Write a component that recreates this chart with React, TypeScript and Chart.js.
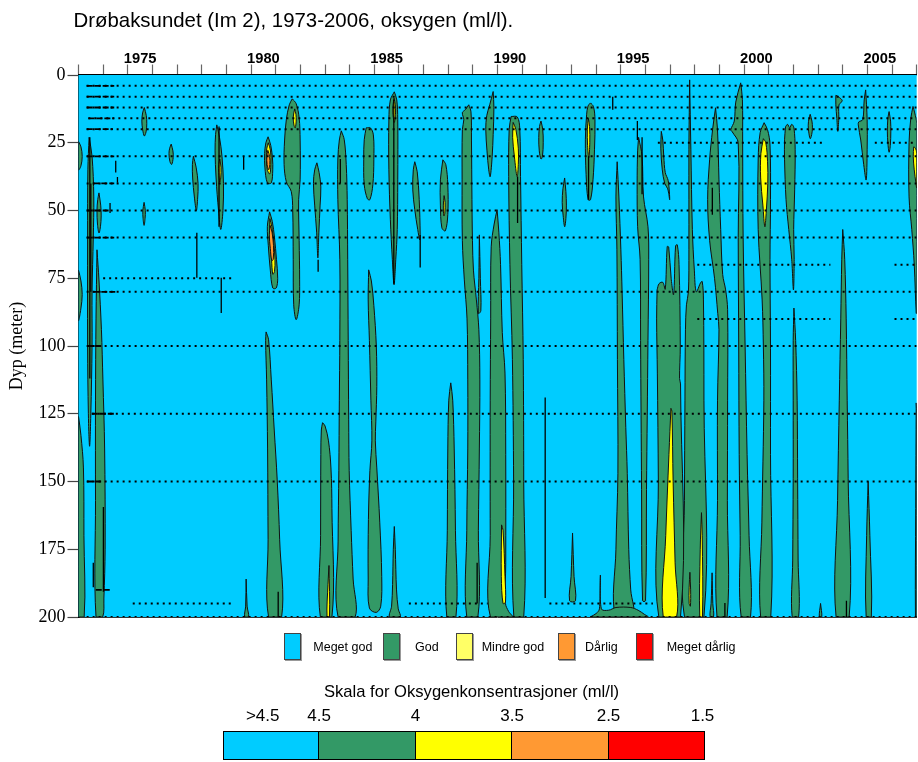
import React, { useEffect, useRef } from 'react';
import { Chart, registerables } from 'chart.js';

Chart.register(...registerables);

// ---------- axes ----------
const firstYear = 1973;
const lastYear = 2007;
const yearLabels = [1975, 1980, 1985, 1990, 1995, 2000, 2005];
const depthMax = 200;
const depthStep = 25;

// ---------- classes ----------
const classNames = ['Meget god', 'God', 'Mindre god', 'Dårlig', 'Meget dårlig'];
const classColors = ['#00CCFF', '#339966', '#FFFF66', '#FF9933', '#FF0000'];
const scaleColors = ['#00CCFF', '#339966', '#FFFF00', '#FF9933', '#FF0000'];
const scaleLabels = ['>4.5', '4.5', '4', '3.5', '2.5', '1.5'];

type P = [number, number]; // [year, depth]

// "God" (4.0 - 4.5 ml/l) areas, outlines as [year, depth]
const godAreas: P[][] = [
  [[1973, 24.5], [1973.1, 26.5], [1973.15, 30], [1973.1, 33.5], [1973, 35]],
  [[1973, 72], [1973.1, 76], [1973.15, 81], [1973.1, 86], [1973, 90.5]],
  [[1973, 126], [1973.1, 133], [1973.2, 145], [1973.22, 170], [1973.23, 200], [1973, 200]],
  [[1973.43, 23], [1973.55, 30], [1973.62, 45], [1973.6, 60], [1973.55, 80], [1973.55, 100], [1973.5, 125], [1973.45, 137], [1973.4, 125], [1973.37, 100], [1973.37, 60], [1973.38, 35]],
  [[1973.83, 43.5], [1973.9, 48], [1973.92, 52], [1973.89, 56], [1973.83, 58.3], [1973.77, 55], [1973.75, 50], [1973.78, 46]],
  [[1973.75, 64.5], [1973.83, 75.6], [1973.93, 94], [1973.99, 112.5], [1974.06, 138], [1974.08, 175], [1974.03, 193], [1973.98, 200], [1973.71, 200], [1973.69, 157], [1973.69, 120], [1973.71, 90]],
  [[1975.67, 12], [1975.75, 15], [1975.77, 18], [1975.74, 21], [1975.67, 22.5], [1975.6, 20], [1975.57, 17], [1975.6, 14]],
  [[1975.66, 47], [1975.71, 50], [1975.7, 53], [1975.66, 55.5], [1975.62, 53], [1975.61, 50]],
  [[1976.76, 25.5], [1976.83, 28], [1976.84, 30.5], [1976.78, 33], [1976.71, 32], [1976.67, 29], [1976.7, 27]],
  [[1977.66, 30], [1977.77, 34], [1977.85, 40], [1977.83, 46], [1977.78, 50], [1977.7, 45], [1977.63, 38], [1977.62, 33]],
  [[1978.61, 18.4], [1978.72, 23], [1978.82, 30], [1978.88, 40], [1978.86, 50], [1978.77, 57], [1978.68, 50], [1978.58, 38], [1978.54, 28], [1978.56, 22]],
  [[1979.8, 186], [1979.84, 196], [1979.9, 200], [1979.74, 200], [1979.78, 196]],
  [[1980.69, 22.8], [1980.8, 26], [1980.87, 31], [1980.88, 35], [1980.82, 39.8], [1980.66, 39.8], [1980.56, 34], [1980.55, 29], [1980.6, 25]],
  [[1980.75, 50.5], [1980.86, 54], [1980.95, 60], [1981.03, 68], [1981.08, 75], [1981.02, 78.6], [1980.88, 78.6], [1980.78, 72], [1980.7, 63], [1980.66, 56]],
  [[1980.61, 94.8], [1980.71, 97.7], [1980.82, 112.5], [1980.94, 131], [1981.06, 149.4], [1981.16, 171.5], [1981.24, 200], [1980.71, 200], [1980.69, 171.5], [1980.67, 138], [1980.63, 112.5], [1980.59, 98]],
  [[1981.67, 8.8], [1981.83, 10.6], [1981.95, 15.8], [1981.99, 24], [1981.99, 38.7], [1981.93, 46], [1981.95, 61], [1981.97, 75.6], [1981.95, 84.8], [1981.83, 90.3], [1981.73, 84.8], [1981.71, 68], [1981.69, 50], [1981.63, 43], [1981.43, 39.4], [1981.34, 33], [1981.36, 24], [1981.43, 16.5], [1981.55, 11]],
  [[1982.67, 32.4], [1982.76, 36], [1982.83, 41.3], [1982.8, 48], [1982.75, 58], [1982.71, 67.5], [1982.66, 58], [1982.58, 48], [1982.53, 40], [1982.58, 35]],
  [[1982.9, 128.3], [1983.0, 129.5], [1983.14, 135], [1983.24, 145], [1983.28, 160], [1983.28, 200], [1982.81, 200], [1982.82, 170], [1982.83, 140], [1982.85, 131]],
  [[1983.66, 20.6], [1983.78, 23.9], [1983.86, 33], [1983.9, 46], [1983.92, 68], [1983.94, 98], [1983.96, 127], [1983.98, 146], [1984.06, 168], [1984.14, 186], [1984.22, 200], [1983.53, 200], [1983.53, 172], [1983.56, 146], [1983.58, 120], [1983.6, 98], [1983.6, 68], [1983.52, 46], [1983.52, 31], [1983.58, 24]],
  [[1984.67, 19.5], [1984.84, 19.5], [1984.96, 22.1], [1984.98, 31.3], [1984.94, 40.5], [1984.82, 46], [1984.72, 45.7], [1984.59, 40.5], [1984.57, 31.3], [1984.59, 23.9]],
  [[1984.77, 71.9], [1984.88, 76], [1984.98, 85], [1985.08, 100], [1985.1, 115], [1985.06, 128], [1985.04, 135], [1985.1, 145], [1985.22, 165], [1985.3, 185], [1985.26, 196], [1985.08, 198.3], [1984.8, 196.7], [1984.75, 186], [1984.76, 164], [1984.82, 146], [1984.9, 135], [1984.86, 120], [1984.8, 98], [1984.75, 83]],
  [[1985.81, 6.2], [1985.91, 9.2], [1985.95, 16.5], [1985.95, 38.7], [1985.93, 57], [1985.87, 68], [1985.8, 77.4], [1985.73, 68], [1985.65, 53.4], [1985.59, 35], [1985.59, 16.5], [1985.65, 9.2]],
  [[1985.81, 166.6], [1985.85, 175], [1985.9, 190], [1985.97, 197], [1986.05, 200], [1985.62, 200], [1985.7, 196], [1985.74, 188], [1985.77, 175]],
  [[1986.64, 32], [1986.74, 35.7], [1986.82, 46], [1986.86, 59], [1986.84, 60.8], [1986.76, 57], [1986.64, 49.7], [1986.56, 42.4], [1986.58, 35]],
  [[1987.78, 31.3], [1987.9, 33.1], [1987.98, 40.5], [1987.98, 51.5], [1987.88, 57.5], [1987.74, 56.4], [1987.68, 48], [1987.68, 38.7]],
  [[1988.1, 113.6], [1988.18, 120], [1988.24, 138], [1988.29, 168], [1988.31, 200], [1987.94, 200], [1987.96, 168], [1987.98, 138], [1988.02, 120]],
  [[1988.83, 11], [1988.92, 13.6], [1988.94, 24], [1988.96, 46], [1988.98, 61], [1989.02, 72], [1989.14, 83], [1989.24, 94], [1989.28, 112.5], [1989.26, 138], [1989.22, 168], [1989.2, 200], [1988.75, 200], [1988.75, 168], [1988.79, 138], [1988.79, 112.5], [1988.76, 90], [1988.65, 75.6], [1988.57, 61], [1988.56, 38.7], [1988.57, 20.2], [1988.63, 16.5], [1988.57, 13.9], [1988.69, 12.8]],
  [[1989.26, 59], [1989.3, 75], [1989.32, 87], [1989.22, 88], [1989.24, 75]],
  [[1989.82, 6.1], [1989.85, 12], [1989.82, 22], [1989.78, 30], [1989.7, 37.5], [1989.64, 35], [1989.57, 28], [1989.52, 20], [1989.56, 15], [1989.68, 11]],
  [[1989.98, 49.7], [1990.05, 58], [1990.12, 70], [1990.19, 95], [1990.3, 110], [1990.33, 140], [1990.33, 180], [1990.32, 195], [1990.45, 198], [1990.6, 200], [1989.71, 200], [1989.7, 170], [1989.7, 120], [1989.72, 90], [1989.74, 63.4], [1989.86, 55]],
  [[1990.55, 15.3], [1990.8, 15.5], [1990.9, 20], [1990.93, 37.5], [1990.98, 70], [1991.04, 105], [1991.06, 150], [1991.06, 200], [1990.66, 200], [1990.65, 150], [1990.6, 105], [1990.5, 70], [1990.45, 37.5], [1990.47, 20]],
  [[1991.76, 17], [1991.83, 20], [1991.85, 25], [1991.82, 30], [1991.76, 31], [1991.69, 28], [1991.67, 23], [1991.7, 19]],
  [[1992.72, 38], [1992.77, 43], [1992.79, 48], [1992.77, 53], [1992.72, 56], [1992.66, 52], [1992.62, 47], [1992.65, 42]],
  [[1993.04, 169], [1993.1, 185], [1993.16, 194], [1992.92, 194], [1992.98, 185]],
  [[1993.77, 10.3], [1993.89, 11.7], [1993.95, 16.5], [1993.93, 27.6], [1993.87, 38.7], [1993.77, 46], [1993.67, 46], [1993.59, 36.8], [1993.56, 23.9], [1993.61, 14.7], [1993.67, 11.4]],
  [[1993.75, 200], [1994.0, 198.7], [1994.13, 197], [1994.17, 184.5], [1994.21, 197], [1994.5, 197.5], [1994.8, 196.5], [1995.4, 196.5], [1995.7, 197.5], [1995.95, 199], [1996.1, 200]],
  [[1994.85, 32], [1994.92, 45], [1995.0, 64.5], [1995.05, 80], [1995.12, 105], [1995.2, 130], [1995.26, 147], [1995.32, 175], [1995.4, 190], [1995.5, 200], [1994.78, 200], [1994.8, 175], [1994.88, 147], [1994.86, 105], [1994.84, 64.5], [1994.8, 45]],
  [[1995.72, 23], [1995.86, 30], [1995.92, 45], [1996.1, 56], [1996.13, 68], [1996.1, 98], [1996.04, 153], [1996.0, 194], [1995.88, 194], [1995.84, 153], [1995.8, 98], [1995.78, 68], [1995.68, 56], [1995.66, 40], [1995.68, 28]],
  [[1996.64, 20.8], [1996.7, 24], [1996.74, 30], [1996.8, 36], [1996.92, 39], [1996.98, 46], [1996.9, 42], [1996.78, 40], [1996.68, 35], [1996.62, 27]],
  [[1996.47, 79.3], [1996.55, 77], [1996.7, 76.5], [1996.8, 79], [1996.88, 63.3], [1996.94, 63.5], [1997.04, 75], [1997.14, 81], [1997.22, 63], [1997.29, 62.7], [1997.36, 70], [1997.41, 100], [1997.38, 112], [1997.42, 114], [1997.42, 200], [1996.54, 200], [1996.52, 150], [1996.48, 110], [1996.45, 90]],
  [[1997.79, 1.8], [1997.84, 27.6], [1997.9, 57], [1997.98, 72], [1998.06, 80], [1998.23, 76.7], [1998.3, 76.2], [1998.35, 83], [1998.37, 120], [1998.37, 200], [1997.58, 200], [1997.58, 157], [1997.6, 120], [1997.62, 94], [1997.66, 84.8], [1997.74, 80], [1997.76, 64.5], [1997.76, 27.6], [1997.78, 9.2]],
  [[1998.7, 183.7], [1998.73, 195], [1998.76, 200], [1998.62, 200], [1998.66, 195]],
  [[1998.84, 12.1], [1998.92, 20.2], [1998.98, 38.7], [1999.05, 57], [1999.13, 73.6], [1999.25, 79.3], [1999.33, 86.6], [1999.33, 120], [1999.32, 157], [1999.31, 200], [1998.9, 200], [1998.92, 157], [1998.92, 120], [1998.98, 94], [1998.93, 88], [1998.8, 75], [1998.6, 61], [1998.52, 46], [1998.6, 31.3], [1998.72, 20.2]],
  [[1999.86, 2.9], [1999.93, 9], [1999.94, 25], [1999.96, 60], [2000.04, 100], [2000.12, 140], [2000.2, 170], [2000.26, 200], [1999.88, 200], [1999.84, 170], [1999.8, 140], [1999.78, 100], [1999.76, 60], [1999.76, 25], [1999.52, 21], [1999.46, 20.2], [1999.6, 17], [1999.66, 10]],
  [[2000.81, 17.6], [2000.95, 20.2], [2001.05, 25.8], [2001.07, 46], [2001.05, 68], [2001.07, 101], [2001.07, 140], [2001.08, 200], [2000.67, 200], [2000.72, 165], [2000.8, 120], [2000.78, 100], [2000.73, 83], [2000.57, 57], [2000.57, 31], [2000.65, 21.3]],
  [[2001.68, 19.1], [2001.76, 18.2], [2001.85, 19.5], [2001.93, 18.2], [2002.02, 19.5], [2002.07, 27.6], [2002.05, 42.4], [2002.01, 57], [2002.03, 68], [2002.0, 79.3], [2001.93, 68], [2001.81, 57], [2001.7, 46], [2001.64, 31.3], [2001.64, 23.9]],
  [[2002.02, 86], [2002.09, 98], [2002.15, 120], [2002.17, 149], [2002.19, 179], [2002.21, 200], [2001.95, 200], [2001.97, 179], [2001.99, 149], [2001.99, 120], [2001.99, 98]],
  [[2002.68, 14.5], [2002.75, 17], [2002.77, 19.5], [2002.74, 22], [2002.68, 23.5], [2002.62, 21], [2002.6, 18.5], [2002.63, 16]],
  [[2003.1, 195], [2003.15, 200], [2003.05, 200]],
  [[2003.72, 7.5], [2003.82, 8], [2003.98, 9.5], [2003.85, 11], [2003.84, 16], [2003.8, 20.8], [2003.76, 16], [2003.72, 11]],
  [[2004.0, 57], [2004.08, 68], [2004.14, 90], [2004.18, 120], [2004.22, 149], [2004.26, 200], [2003.73, 200], [2003.79, 157], [2003.86, 120], [2003.92, 90], [2003.96, 68]],
  [[2004.93, 5.5], [2004.99, 16.5], [2004.99, 27.6], [2004.95, 38.7], [2004.85, 33], [2004.73, 24], [2004.63, 18.4], [2004.65, 17.3], [2004.81, 16.5], [2004.87, 9.2]],
  [[2005.03, 150], [2005.1, 170], [2005.16, 200], [2004.95, 200], [2004.97, 170]],
  [[2005.88, 13.5], [2005.94, 17], [2005.95, 21], [2005.93, 26], [2005.88, 28.5], [2005.83, 25], [2005.81, 21], [2005.83, 16]],
  [[2006.85, 11.6], [2006.92, 14], [2007, 18], [2007, 88], [2006.98, 88], [2006.9, 70], [2006.8, 57], [2006.69, 45], [2006.69, 25], [2006.76, 16]],
  [[2006.98, 121], [2007, 125], [2007, 200], [2006.95, 200], [2006.96, 160]],
];

// "Mindre god" (3.5 - 4.0 ml/l) areas
const mindreGodAreas: P[][] = [
  [[1978.73, 31], [1978.78, 34], [1978.77, 38], [1978.73, 39.5], [1978.69, 36], [1978.69, 33]],
  [[1980.7, 25], [1980.79, 28], [1980.8, 33], [1980.76, 36.5], [1980.66, 35], [1980.62, 30], [1980.64, 27]],
  [[1980.76, 53], [1980.84, 56], [1980.92, 62], [1980.97, 68], [1980.95, 72.5], [1980.88, 73.5], [1980.83, 68], [1980.76, 60]],
  [[1981.77, 12.5], [1981.82, 14.5], [1981.83, 17], [1981.79, 19.5], [1981.74, 18.5], [1981.71, 15.5]],
  [[1983.16, 181], [1983.18, 200], [1983.08, 200], [1983.12, 188]],
  [[1985.8, 8.5], [1985.85, 11], [1985.86, 14], [1985.81, 17.5], [1985.75, 14], [1985.76, 11]],
  [[1987.83, 44.5], [1987.87, 47], [1987.86, 51], [1987.82, 52], [1987.8, 48]],
  [[1990.16, 166], [1990.22, 168], [1990.3, 185], [1990.32, 194.5], [1990.22, 195], [1990.15, 185]],
  [[1990.63, 17.5], [1990.74, 20], [1990.84, 27], [1990.84, 33], [1990.79, 37.5], [1990.68, 30], [1990.61, 23]],
  [[1993.68, 16], [1993.73, 19], [1993.74, 25], [1993.7, 30.5], [1993.65, 26], [1993.64, 20]],
  [[1997.03, 123], [1997.07, 124], [1997.12, 150], [1997.2, 180], [1997.26, 200], [1996.72, 200], [1996.82, 170], [1996.95, 140]],
  [[1997.8, 183.5], [1997.83, 190], [1997.82, 196], [1997.77, 195], [1997.77, 189]],
  [[1998.27, 161.5], [1998.3, 170], [1998.31, 200], [1998.2, 200], [1998.22, 175]],
  [[2000.78, 23.5], [2000.88, 25], [2000.95, 32], [2000.96, 40], [2000.9, 50], [2000.84, 56], [2000.76, 48], [2000.67, 38], [2000.68, 29]],
  [[2006.88, 26.5], [2006.95, 27], [2007, 29], [2007, 41.6], [2006.97, 40], [2006.9, 35], [2006.86, 30]],
];

// "Dårlig" (2.5 - 3.5 ml/l) areas
const darligAreas: P[][] = [
  [[1980.68, 27.8], [1980.75, 30], [1980.76, 33], [1980.71, 35], [1980.65, 33], [1980.64, 30]],
  [[1980.77, 55.5], [1980.85, 58], [1980.91, 63], [1980.9, 68], [1980.84, 68.5], [1980.78, 64], [1980.74, 59]],
];

// degenerate contour lines: [year, top depth, bottom depth]
const ridgeLines: [number, number, number][] = [
  [1974.51, 31.6, 36], [1974.58, 37.6, 39.8], [1974.28, 47.2, 50.9], [1977.8, 58.2, 74.8],
  [1978.79, 74.8, 87.8], [1979.7, 30.2, 35], [1982.72, 68.2, 72.6], [1986.86, 59, 71],
  [1973.6, 180, 189], [1974.01, 159.4, 190.7], [1981.1, 190.7, 200], [1994.67, 8, 12.8],
  [1995.67, 17, 24], [1991.93, 119, 193], [1999.22, 194.8, 200], [1978.7, 19, 56],
  [1985.79, 9, 77], [1983.62, 31, 40], [1995.86, 23, 44], [1998.71, 41.6, 51.6],
  [1990.81, 37.5, 54.6], [1993.69, 30, 46], [1989.17, 180, 195], [2004.15, 194, 200],
  [1973.46, 23, 112], [1973.5, 40, 80],
];

// sampling rows: [depth, from year, to year]
const sampleRows: [number, number, number][] = [
  [4, 1973.33, 2007], [8, 1973.33, 2007], [12, 1973.33, 2007], [16, 1973.4, 2007], [20, 1973.33, 2007],
  [30, 1973.33, 2007], [40, 1973.33, 2007], [50, 1973.33, 2007], [60, 1973.33, 2007], [80, 1973.33, 2007],
  [100, 1973.33, 2007], [125, 1973.54, 2007], [150, 1973.33, 2007], [200, 1973.33, 2007],
  [25, 1996.5, 2003.3], [25, 2005.3, 2007], [75, 1974.0, 1979.2], [70, 1998.1, 2003.5], [70, 2006.1, 2007],
  [90, 1998.1, 2003.5], [90, 2006.1, 2007], [195, 1975.2, 1979.2], [195, 1986.4, 1989.6], [195, 1992.1, 1996.3],
];

// dense sampling periods (almost continuous rows): [depth, from year, to year]
const denseRows: [number, number, number][] = [
  [4, 1973.33, 1974.45], [8, 1973.33, 1974.45], [12, 1973.33, 1974.45], [16, 1973.4, 1974.45], [20, 1973.33, 1974.4],
  [30, 1973.33, 1974.45], [40, 1973.6, 1974.45], [50, 1973.33, 1974.3], [60, 1973.33, 1974.45], [80, 1973.6, 1974.5],
  [100, 1973.35, 1974.0], [125, 1973.54, 1974.48], [150, 1973.35, 1974.0], [190, 1973.7, 1974.3],
];

const FONT_SANS = "'Liberation Sans', Arial, Helvetica, sans-serif";
const FONT_SERIF = "'Liberation Serif', 'Times New Roman', Times, serif";

function polyDataset(pts: P[], color: string, order: number) {
  const closed = [...pts, pts[0]];
  return {
    data: closed.map(([x, y]) => ({ x, y })),
    showLine: true,
    fill: 'shape',
    backgroundColor: color,
    borderColor: '#111',
    borderWidth: 1,
    pointRadius: 0,
    tension: 0.35,
    order,
  };
}

function segDataset(x0: number, y0: number, x1: number, y1: number, width: number, dash: number[], order: number) {
  return {
    data: [{ x: x0, y: y0 }, { x: x1, y: y1 }],
    showLine: true,
    fill: false,
    borderColor: '#000',
    borderWidth: width,
    borderDash: dash,
    pointRadius: 0,
    order,
  };
}

export default function App() {
  const ref = useRef<HTMLCanvasElement | null>(null);

  useEffect(() => {
    const canvas = ref.current;
    if (!canvas) return;

    const tickValues: number[] = [];
    for (let y = firstYear; y <= lastYear; y++) tickValues.push(y);
    yearLabels.forEach((y) => tickValues.push(y + 0.5));
    tickValues.sort((a, b) => a - b);

    const datasets: any[] = [
      ...godAreas.map((p) => polyDataset(p, scaleColors[1], 4)),
      ...mindreGodAreas.map((p) => polyDataset(p, scaleColors[2], 3)),
      ...darligAreas.map((p) => polyDataset(p, scaleColors[3], 2)),
      ...ridgeLines.map(([x, a, b]) => segDataset(x, a, x, b, 1.3, [], 1)),
      ...denseRows.map(([d, a, b]) => segDataset(a, d, b, d, 1.8, [6, 2], 0)),
      ...sampleRows.map(([d, a, b]) => segDataset(a, d, b, d, 2, [2, 4], 0)),
    ];

    const background = {
      id: 'plotBackground',
      beforeDatasetsDraw(chart: any) {
        const { ctx, chartArea: a } = chart;
        ctx.save();
        ctx.fillStyle = scaleColors[0];
        ctx.fillRect(a.left, a.top, a.right - a.left, a.bottom - a.top);
        ctx.restore();
      },
    };

    const chart = new Chart(canvas, {
      type: 'scatter',
      data: { datasets },
      plugins: [background],
      options: {
        animation: false,
        responsive: false,
        events: [],
        layout: { padding: { left: 0, right: 1.3, top: 0, bottom: 0 } },
        plugins: { legend: { display: false }, tooltip: { enabled: false }, title: { display: false } },
        scales: {
          x: {
            type: 'linear',
            position: 'top',
            min: firstYear,
            max: lastYear,
            z: 1,
            afterBuildTicks: (scale: any) => {
              scale.ticks = tickValues.map((v) => ({ value: v }));
            },
            afterFit: (scale: any) => {
              scale.height = 75;
            },
            ticks: {
              autoSkip: false,
              maxRotation: 0,
              padding: -3,
              color: '#000',
              font: { family: FONT_SANS, size: 14.7, weight: 'bold' },
              callback: (value: any) => {
                const v = Number(value);
                const y = Math.floor(v);
                return v - y === 0.5 && yearLabels.includes(y) ? String(y) : '';
              },
            },
            grid: {
              drawOnChartArea: false,
              tickLength: 10.5,
              tickWidth: 1.2,
              tickColor: (c: any) => (c.tick && Number.isInteger(c.tick.value) ? '#666' : 'rgba(0,0,0,0)'),
            },
            border: { color: '#000', width: 1.5 },
          },
          xb: {
            type: 'linear',
            position: 'bottom',
            min: firstYear,
            max: lastYear,
            z: 1,
            ticks: { display: false },
            grid: { display: false, drawTicks: false },
            border: { color: '#333', width: 1 },
            afterFit: (scale: any) => {
              scale.height = 145;
            },
          },
          y: {
            type: 'linear',
            position: 'left',
            reverse: true,
            min: 0,
            max: depthMax,
            z: 1,
            afterFit: (scale: any) => {
              scale.width = 78.5;
            },
            ticks: {
              stepSize: depthStep,
              padding: 2,
              color: '#000',
              font: { family: FONT_SERIF, size: 18 },
            },
            grid: { drawOnChartArea: false, tickLength: 11, tickColor: '#444', tickWidth: 1.2 },
            border: { color: '#000', width: 1.5 },
            title: {
              display: true,
              text: 'Dyp (meter)',
              color: '#000',
              font: { family: FONT_SERIF, size: 18 },
              padding: { top: 6, bottom: 0 },
            },
          },
        },
      } as any,
    });

    return () => chart.destroy();
  }, []);

  const legendBoxX = [284, 383.3, 455.7, 558.3, 636];
  const legendTextX = [313.3, 415, 481.7, 585, 666.7];
  const barLeft = 222.7;
  const cellW = 96.46;
  const labelCenters = [262.7, 319.2, 415.6, 512.1, 608.5, 702.5];

  return (
    <div style={{ position: 'absolute', left: 0, top: 0, width: 918, height: 762, background: '#fff', overflow: 'hidden', fontFamily: FONT_SANS, color: '#000' }}>
      <canvas ref={ref} width={918} height={762} style={{ position: 'absolute', left: 0, top: 0, width: 918, height: 762 }} />
      <div style={{ position: 'absolute', left: 73.5, top: 10, fontSize: 20.4, lineHeight: '20.4px', whiteSpace: 'nowrap' }}>
        Drøbaksundet (Im 2), 1973-2006, oksygen (ml/l).
      </div>
      {classNames.map((name, i) => (
        <React.Fragment key={name}>
          <div style={{ position: 'absolute', left: legendBoxX[i], top: 633.3, width: 15, height: 25, background: classColors[i], border: '1px solid #444', boxShadow: '1px 1px 0 #999' }} />
          <div style={{ position: 'absolute', left: legendTextX[i], top: 641.3, fontSize: 12.5, lineHeight: '13px', whiteSpace: 'nowrap' }}>{name}</div>
        </React.Fragment>
      ))}
      <div style={{ position: 'absolute', left: 324, top: 683.8, fontSize: 16.6, lineHeight: '16.6px', whiteSpace: 'nowrap' }}>
        Skala for Oksygenkonsentrasjoner (ml/l)
      </div>
      {scaleLabels.map((t, i) => (
        <div key={t} style={{ position: 'absolute', left: labelCenters[i], top: 707.3, fontSize: 17, lineHeight: '17px', whiteSpace: 'nowrap', transform: 'translateX(-50%)' }}>{t}</div>
      ))}
      {scaleColors.map((c, i) => (
        <div key={c} style={{ position: 'absolute', left: barLeft + i * cellW, top: 730.7, width: cellW, height: 29, boxSizing: 'border-box', background: c, border: '1px solid #000', borderLeftWidth: i === 0 ? 1 : 0 }} />
      ))}
    </div>
  );
}
